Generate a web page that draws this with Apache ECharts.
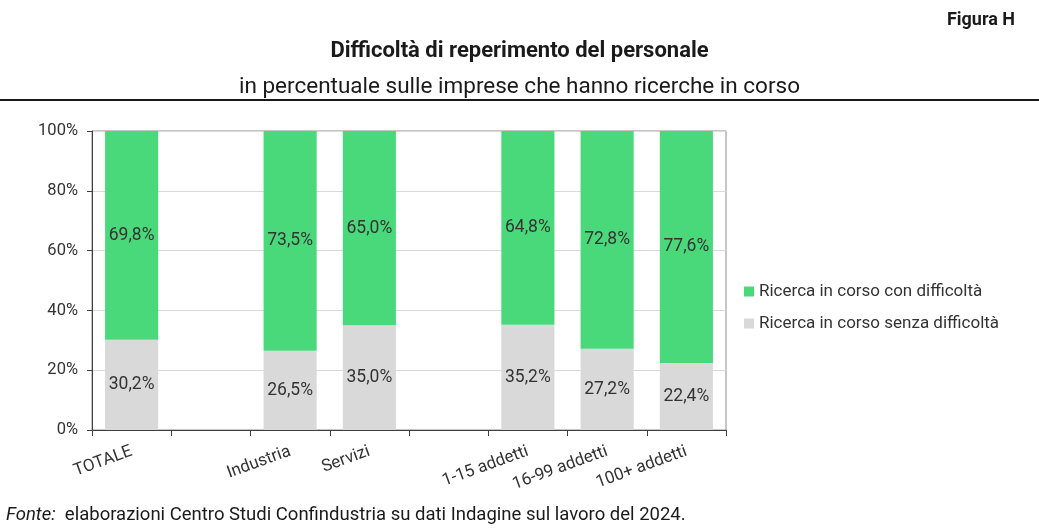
<!DOCTYPE html>
<html>
<head>
    <meta charset="utf-8">
    <title>Figura H</title>
    <script src="https://cdn.jsdelivr.net/npm/echarts@6/dist/echarts.min.js"></script>
    <style>
        body { margin: 0; background: #fff; }
    </style>
</head>
<body>
<div id="main" style="width: 1039px;height:531px;"></div>
<script type="text/javascript">
    // categorie (le stringhe vuote sono gli spazi tra i gruppi)
    var categories = ['TOTALE', '', 'Industria', 'Servizi', '', '1-15 addetti', '16-99 addetti', '100+ addetti'];
    var senzaDifficolta = [30.2, '-', 26.5, 35.0, '-', 35.2, 27.2, 22.4];
    var conDifficolta = [69.8, '-', 73.5, 65.0, '-', 64.8, 72.8, 77.6];
    var yTicks = [0, 20, 40, 60, 80, 100];

    var fontFam = 'Roboto, "Noto Sans", sans-serif';

    function fmt(p) {
        return p.value.toFixed(1).replace('.', ',') + '%';
    }

    var myChart = echarts.init(document.getElementById('main'));
    var option = {
        backgroundColor: '#fff',
        animation: false,
        textStyle: { fontFamily: fontFam },
        title: [
            {
                text: 'Figura H',
                right: 19, top: 6,
                textStyle: { fontSize: 18, fontWeight: 'bold', color: '#1a1a1a', fontFamily: fontFam }
            },
            {
                text: 'Difficoltà di reperimento del personale',
                left: 'center', top: 35,
                textStyle: { fontSize: 22, fontWeight: 'bold', color: '#1a1a1a', fontFamily: fontFam }
            },
            {
                text: 'in percentuale sulle imprese che hanno ricerche in corso',
                left: 'center', top: 71,
                textStyle: { fontSize: 22.5, fontWeight: 'normal', color: '#1a1a1a', fontFamily: fontFam }
            }
        ],
        graphic: [
            {
                type: 'rect',
                shape: { x: 0, y: 99, width: 1039, height: 2 },
                style: { fill: '#1a1a1a' }
            },
            {
                type: 'text',
                left: 6, top: 506,
                style: {
                    text: '{i|Fonte:}  elaborazioni Centro Studi Confindustria su dati Indagine sul lavoro del 2024.',
                    fontSize: 18.5, fill: '#1a1a1a', fontFamily: fontFam,
                    rich: { i: { fontStyle: 'italic', fontSize: 18.5, fontFamily: fontFam } }
                }
            }
        ],
        legend: {
            orient: 'vertical',
            left: 739, top: 278,
            itemWidth: 10, itemHeight: 10,
            itemGap: 15,
            icon: 'rect',
            data: ['Ricerca in corso con difficoltà', 'Ricerca in corso senza difficoltà'],
            textStyle: { fontSize: 17, color: '#333', fontFamily: fontFam }
        },
        grid: {
            left: 92, right: 313, top: 131, bottom: 101,
            show: true, borderColor: '#8c8c8c', borderWidth: 1
        },
        xAxis: {
            type: 'category',
            data: categories,
            axisLine: { lineStyle: { color: '#404040' } },
            axisTick: { show: true, length: 6, lineStyle: { color: '#404040' } },
            axisLabel: {
                rotate: 20, fontSize: 17, color: '#333', margin: 21,
                interval: 0, fontFamily: fontFam
            }
        },
        yAxis: {
            type: 'value',
            min: yTicks[0], max: yTicks[yTicks.length - 1], interval: 20,
            axisLine: { show: true, lineStyle: { color: '#404040' } },
            axisTick: { show: true, length: 5, lineStyle: { color: '#404040' } },
            splitLine: { lineStyle: { color: '#d9d9d9' } },
            axisLabel: {
                fontSize: 16.5, color: '#333', margin: 14, fontFamily: fontFam,
                formatter: function (v) { return v + '%'; }
            }
        },
        series: [
            {
                name: 'Ricerca in corso senza difficoltà',
                type: 'bar', stack: 'tot',
                data: senzaDifficolta,
                barWidth: '67%',
                itemStyle: { color: '#d9d9d9' },
                label: { show: true, position: 'inside', formatter: fmt, fontSize: 17.5, color: '#333', fontFamily: fontFam }
            },
            {
                name: 'Ricerca in corso con difficoltà',
                type: 'bar', stack: 'tot',
                data: conDifficolta,
                barWidth: '67%',
                itemStyle: { color: '#4ad97a' },
                label: { show: true, position: 'inside', formatter: fmt, fontSize: 17.5, color: '#333', fontFamily: fontFam }
            }
        ]
    };
    myChart.setOption(option);
</script>
</body>
</html>
